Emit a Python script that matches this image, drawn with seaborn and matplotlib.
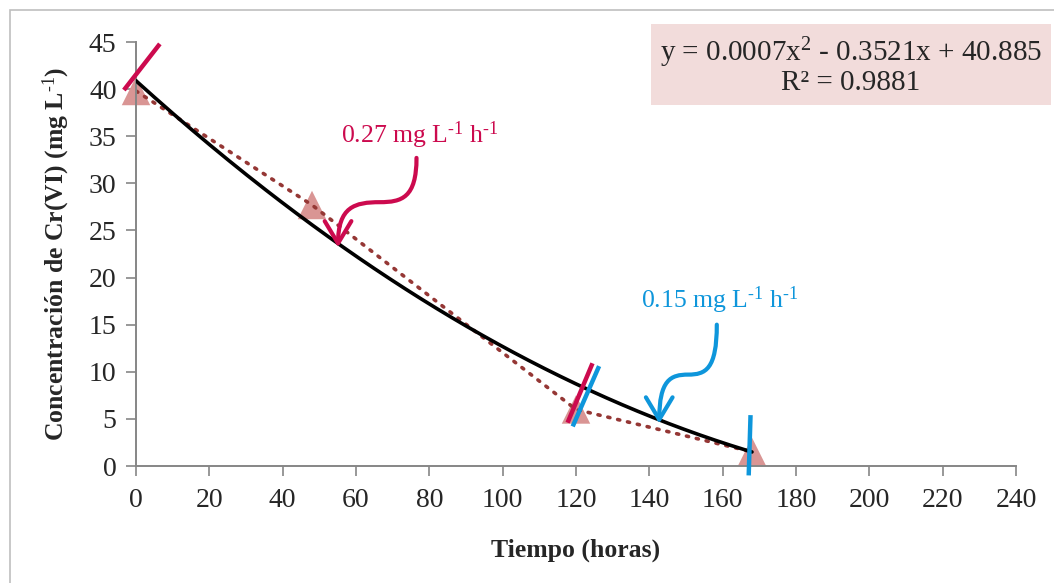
import numpy as np
import pandas as pd
import matplotlib
matplotlib.use("Agg")
import matplotlib.pyplot as plt
import seaborn as sns
from matplotlib.patches import FancyArrowPatch, Rectangle
from matplotlib.path import Path

# Measured Cr(VI) concentration over time
tiempo = [0, 48, 120, 168]
concentracion = [39.8, 27.7, 6.0, 1.5]

# Quadratic trend line coefficients (a x^2 + b x + c) and fit quality
coef_a, coef_b, coef_c = 0.0007, -0.3521, 40.885
r2 = 0.9881

x_ticks = list(range(0, 241, 20))
y_ticks = list(range(0, 46, 5))

# Rate marks: short segments showing local slopes
rate_marks = {
    "inicio": ([-3.3, 6.5], [39.9, 44.8], "#CC0A4E"),
    "medio_r": ([117.7, 124.5], [4.6, 10.9], "#CC0A4E"),
    "medio_b": ([119.1, 126.3], [4.2, 10.6], "#0E96DB"),
    "final": ([167.6, 167.1], [5.4, -1.0], "#0E96DB"),
}

sns.set_theme(style="white")
plt.rcParams["font.family"] = ["Liberation Serif", "DejaVu Serif"]
plt.rcParams["mathtext.fontset"] = "custom"
plt.rcParams["mathtext.rm"] = "Liberation Serif"
plt.rcParams["mathtext.it"] = "Liberation Serif:italic"
plt.rcParams["mathtext.bf"] = "Liberation Serif:bold"

fig = plt.figure(figsize=(10.54, 5.83), dpi=100)
ax = fig.add_axes([136 / 1054, 1 - 466 / 583, 880 / 1054, 424 / 583])

# Outer chart frame
fig.patches.append(Rectangle((10 / 1054, -0.2), 1.2, 1 - 10 / 583 + 0.2,
                             transform=fig.transFigure, fill=False,
                             edgecolor="#BFBFBF", lw=1.2, zorder=0))

df = pd.DataFrame({"t": tiempo, "c": concentracion})
sns.lineplot(data=df, x="t", y="c", ax=ax, color="#953735", lw=2.6,
             linestyle=(0, (0.6, 2.2)), dash_capstyle="round", zorder=2)
sns.scatterplot(data=df, x="t", y="c", ax=ax, marker="^", s=420,
                color="#D99594", edgecolor="none", zorder=1, clip_on=False)

xs = np.linspace(0, 168, 200)
trend = pd.DataFrame({"t": xs, "c": coef_a * xs ** 2 + coef_b * xs + coef_c})
sns.lineplot(data=trend, x="t", y="c", ax=ax, color="black", lw=2.6, zorder=3)

for xs_m, ys_m, col in rate_marks.values():
    ax.plot(xs_m, ys_m, color=col, lw=3.2, clip_on=False, zorder=4,
            solid_capstyle="butt")


def s_arrow(p0, pm, p1, color):
    """Curved S-shaped arrow from p0 via pm to p1 (data coords)."""
    to_px = ax.transData.transform
    a, m, b = to_px(p0), to_px(pm), to_px(p1)
    verts = [a, a + np.array([0, -(a[1] - m[1]) * 0.9]),
             m + np.array([(a[0] - m[0]) * 0.6, 0]), m,
             m + np.array([(b[0] - m[0]) * 0.6, 0]),
             b + np.array([0, (m[1] - b[1]) * 0.9]), b]
    codes = [Path.MOVETO, Path.CURVE4, Path.CURVE4, Path.CURVE4,
             Path.CURVE4, Path.CURVE4, Path.CURVE4]
    inv = ax.transData.inverted()
    path = Path(inv.transform(np.array(verts)), codes)
    arr = FancyArrowPatch(path=path, arrowstyle="->,head_length=10,head_width=6",
                          color=color, lw=3.0, transform=ax.transData,
                          zorder=5, clip_on=False, mutation_scale=1.6)
    ax.add_patch(arr)


s_arrow((76.5, 32.7), (66.5, 28.0), (55.1, 23.2), "#CC0A4E")
s_arrow((158.4, 15.0), (150.6, 9.7), (142.7, 4.5), "#0E96DB")

unit = r"mg L$^{\text{-1}}$ h$^{\text{-1}}$"
ax.text(77.4, 35.1, "0.27 " + unit,
        color="#CC0A4E", fontsize=18.5, ha="center", va="center")
ax.text(159.3, 17.6, "0.15 " + unit,
        color="#0E96DB", fontsize=18.5, ha="center", va="center")

eq = (f"y = {coef_a:.4f}x$^{{\\text{{2}}}}$ - {abs(coef_b):.4f}x + {coef_c:.3f}\n"
      f"R² = {r2:.4f}")
fig.text(851 / 1054, 1 - 66 / 583, eq, fontsize=21, ha="center", va="center",
         linespacing=1.0,
         bbox=dict(boxstyle="square,pad=0.3", fc="#F2DCDB", ec="none"))

ax.set_xlim(0, 240)
ax.set_ylim(0, 45)
ax.set_xticks(x_ticks)
ax.set_yticks(y_ticks)
ax.tick_params(axis="both", which="major", labelsize=20, direction="out",
               length=7, width=1.2, color="#868686", left=True, bottom=True)
ax.tick_params(axis="x", pad=9)
ax.tick_params(axis="y", pad=7)
for side in ["top", "right"]:
    ax.spines[side].set_visible(False)
for side in ["left", "bottom"]:
    ax.spines[side].set_color("#868686")
    ax.spines[side].set_linewidth(1.4)

ax.set_xlabel("Tiempo (horas)", fontsize=18.5, fontweight="bold", labelpad=18)
ax.set_ylabel(r"Concentración de Cr(VI) (mg L$^{\mathbf{\text{-1}}}$)",
              fontsize=18.5, fontweight="bold", labelpad=12)

fig.savefig("out.png", dpi=100, facecolor="white")
